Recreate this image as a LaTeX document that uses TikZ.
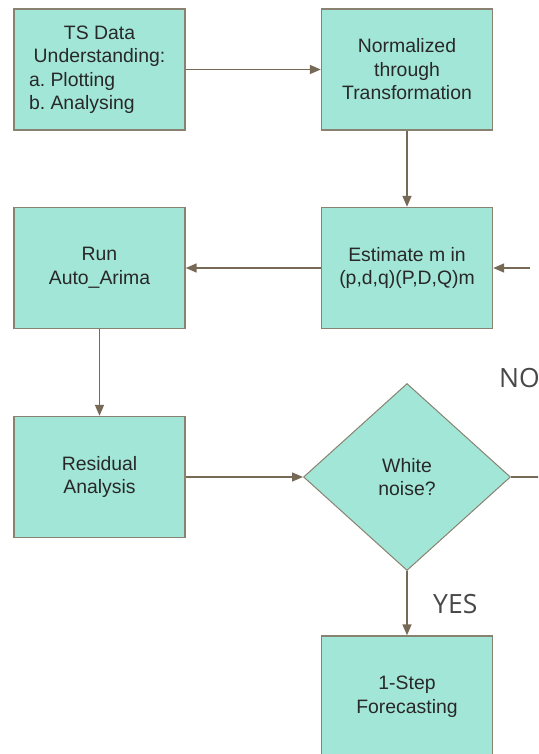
\documentclass[tikz,border=0pt]{standalone}
\usepackage{fontspec}
\setmainfont{Liberation Sans}
\newfontfamily\yesnofont{Open Sans}
\usetikzlibrary{arrows.meta,shapes.geometric}
\definecolor{boxteal}{RGB}{162,230,215}
\definecolor{boxline}{RGB}{138,130,112}
\definecolor{arrowbrown}{RGB}{118,106,86}
\definecolor{textgrey}{RGB}{40,40,40}
\frenchspacing

\begin{document}
\begin{tikzpicture}[
  x=1pt, y=-1pt,
  n/.style={draw=boxline, line width=1.4pt, fill=boxteal, inner sep=0pt,
    minimum width=171pt, minimum height=121pt, align=center,
    text=textgrey, font=\fontsize{19.4}{23.5}\selectfont},
  dec/.style={n, shape=diamond, line width=1pt, minimum width=207pt, minimum height=187pt},
  arr/.style={-{Triangle[length=11pt,width=9pt]}, line width=1.5pt, draw=arrowbrown},
  lbl/.style={anchor=base west, inner sep=0pt, text=textgrey!85,
    font=\yesnofont\fontsize{26.5}{30}\selectfont}
]
\useasboundingbox (0,0) rectangle (538,754);
\clip (0,0) rectangle (538,754);

\node[n] (tsdata) at (99.5, 69.5) {TS Data\\Understanding:\\
  \makebox[141pt][l]{a. Plotting}\\\makebox[141pt][l]{b. Analysing}};
\node[n] (norm) at (407, 69.5) {Normalized\\through\\Transformation};
\node[n] (autoarima) at (99.5, 268) {Run\\Auto\_Arima};
\node[n] (estm) at (407, 268) {Estimate m in\\(p,d,q)(P,D,Q)m};
\node[n] (resid) at (99.5, 477) {Residual\\Analysis};
\node[dec] (noise) at (407, 477) {White\\noise?};
\node[n] (onestep) at (407, 696.5) {1-Step\\Forecasting};

\coordinate (fromright) at (530, 268);
\coordinate (toright) at (545, 477);

\draw[arr] (tsdata) -- (norm);
\draw[arr] (norm) -- (estm);
\draw[arr] (fromright) -- (estm);
\draw[arr] (estm) -- (autoarima);
\draw[arr] (autoarima) -- (resid);
\draw[arr] (resid) -- (noise);
\draw[arr] (noise) -- (onestep);
\draw[arr, -] (noise) -- (toright);

\node[lbl] (yes) at (433, 613) {YES};
\node[lbl] (no) at (499, 387) {NO};

\end{tikzpicture}
\end{document}
